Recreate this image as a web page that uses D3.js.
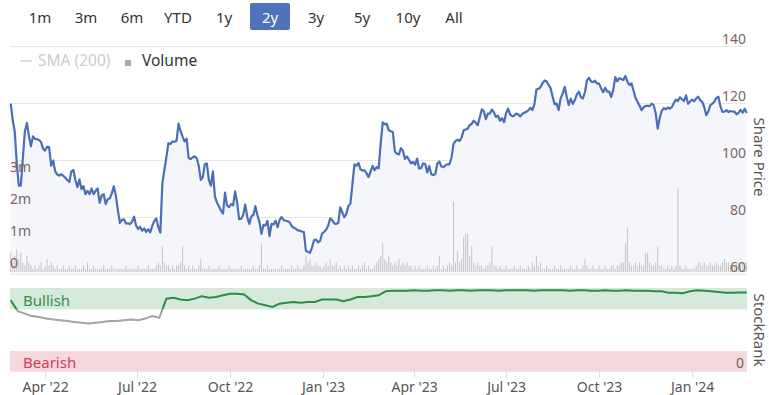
<!DOCTYPE html>
<html>
<head>
<meta charset="utf-8">
<script src="https://cdn.jsdelivr.net/npm/d3@7"></script>
<style>
    body { margin: 0; background: #fff; }
    svg text { font-family: "Noto Sans", sans-serif; }
</style>
</head>
<body>
<svg id="chart" width="769" height="395"></svg>
<script>

// range selector buttons
var rangeButtons = ["1m", "3m", "6m", "YTD", "1y", "2y", "3y", "5y", "10y", "All"];
var selectedButton = "2y";

// price, sampled every 2 days from 26 Feb 2022
var priceValues = [
    119.8,114,110,99,91,91,100.5,110,113,108.5,
    104.8,108.3,107.4,107.3,107,106.3,104,103.3,104.6,104.5,
    98,99.8,96,95,94.5,95,94.4,93.8,93,92.3,
    96,96.5,93,90.5,93.2,89.8,90.8,88,89.2,88,
    90,88,89.2,90,85,87.6,88,84.5,86.3,86.5,
    88.3,90.8,87.5,82.5,77.9,79,79.2,77.7,77.8,77.5,
    78.4,80.1,77,75.8,76.6,75.2,76,74.8,75.7,74.6,
    76.9,78.6,79.5,76.5,74.5,91.8,96.5,101,105.9,105.6,
    106.5,106.4,106.7,112.8,110.2,108.2,106.5,
    107.5,100.7,100.3,100.9,101.3,100.6,98,93,94,98.5,
    98.8,93,91,96,87.2,85.1,83.8,82.2,81.2,88.6,
    84,83.5,84.5,84.1,89,85,79.2,79.4,80.8,84.4,
    80,77.6,80.2,80.7,83.8,80.7,78.4,74.1,77.2,77,
    78.6,73.3,77.6,77.4,78.7,76.4,79,80,78.9,78.7,
    78.5,78.1,76.8,76.2,75.9,75.3,75.2,74.9,74.7,68.1,
    67.8,67.4,69.3,71.8,72.1,71.1,71.6,74.2,74.8,75.5,
    76.9,79.5,78.9,77.7,77.6,77.9,83.4,81.6,79.9,81.1,
    83.9,84.7,91.5,98.5,98,99,96.7,96.3,96.4,95.3,
    94,96,97.9,
    96.4,97.5,97.1,106,113.2,112.6,112.7,110.4,110.1,109.8,
    103,102.2,102,104.2,103.2,100.4,101.2,100,98.8,99.3,
    98.4,100.5,97,97.2,98.8,98.6,95.6,97.9,95,94.7,
    95.1,98.8,99.5,97.7,97.5,98.1,98.5,98.5,100.8,105.6,
    106.7,107.1,106.7,107.9,110.4,110.7,111,112.2,112.7,113.8,
    113.1,112.2,115,117.8,117.1,114.3,116.3,116.3,117.7,116.7,
    115.1,115.6,113.7,114.7,113.2,116.4,118,116,115.4,115.5,
    116.3,116,115.3,116.2,116.6,116.9,117.4,118.3,117.5,119.5,
    124.7,125,125.5,126.9,127.9,127.6,126.4,125.2,122.3,119.6,
    119.8,
    117.5,121.7,123.3,125.7,122.2,119.3,121.5,119.7,121,123,
    124,122,121.6,123.8,128,128.8,127.6,127.3,127.8,126.8,
    126.8,125.2,123.8,125.3,124,124,122.1,124.6,129.1,127.6,
    128.7,128.4,128.1,129.5,127.5,126.3,126.9,124.4,121.8,120.4,
    119.1,117.5,118.5,119,119,118.9,119.8,119.2,116.4,111,
    114.8,117.3,118.2,117.8,118.4,118,118.6,120,121.2,120.7,
    122,121.3,120.7,122.7,119.7,120.5,121.2,120.6,121.6,122.2,
    121,120.4,118.6,115.7,117,119.2,119.8,120.4,121.8,122.2,
    118.8,116.9,117,117.5,116.8,117.2,117,117,116,116.6,
    117.6,116.6,118,116.5
];

// volume in millions, same dates as price
var volumeValues = [
    0.6,0.3,0.5,0.7,0.4,0.6,0.3,0.2,0.5,0.3, 0.2,0.1,0.2,0.1,0.2,0.3,0.1,0.2,0.4,0.2,
    0.3,0.2,0.1,0.2,0.1,0.1,0.2,0.1,0.1,0.2, 0.1,0.1,0.2,0.1,0.1,0.1,0.2,0.1,0.3,0.1,
    0.1,0.2,0.1,0.1,0.1,0.1,0.2,0.1,0.1,0.1, 0.2,0.1,0.1,0.1,0.1,0.1,0.1,0.2,0.1,0.1,
    0.1,0.1,0.1,0.2,0.1,0.1,0.1,0.1,0.2,0.1, 0.1,0.1,0.2,0.3,0.2,0.8,0.3,0.2,0.2,0.1,
    0.2,0.1,0.2,0.2,0.3,0.8,0.2,0.1,0.2,0.1, 0.2,0.1,0.1,0.2,0.4,0.1,0.1,0.1,0.2,0.1,
    0.1,0.1,0.1,0.2,0.1,0.1,0.1,0.1,0.2,0.1, 0.1,0.1,0.1,0.1,0.2,0.1,0.1,0.1,0.1,0.1,
    0.2,0.1,0.1,0.2,0.9,0.1,0.1,0.2,0.1,0.1, 0.1,0.1,0.1,0.1,0.2,0.1,0.1,0.1,0.1,0.2,
    0.1,0.1,0.2,0.1,0.1,0.2,0.5,0.3,0.4,0.2, 0.2,0.3,0.2,0.2,0.1,0.2,0.3,0.2,0.4,0.2,
    0.2,0.3,0.1,0.2,0.1,0.2,0.1,0.2,0.1,0.2, 0.1,0.1,0.2,0.1,0.2,0.3,0.1,0.2,0.1,0.1,
    0.2,0.3,0.4,0.5,0.9,0.4,0.3,0.5,0.3,0.2, 0.3,0.2,0.4,0.2,0.3,0.2,0.3,0.2,0.2,0.1,
    0.2,0.1,0.2,0.1,0.1,0.1,0.2,0.1,0.1,0.2, 0.1,0.2,0.5,0.1,0.2,0.1,0.2,0.3,0.2,2.2,
    0.3,0.65,0.3,0.4,1.1,1.2,1.2,0.5,0.8,0.3, 0.2,0.3,0.2,0.2,0.1,0.2,0.2,0.3,0.8,0.2,
    0.2,0.1,0.2,0.1,0.1,0.2,0.1,0.1,0.1,0.2, 0.1,0.1,0.2,0.1,0.1,0.1,0.2,0.1,0.3,0.2,
    0.5,0.2,0.3,0.1,0.1,0.2,0.1,0.1,0.1,0.2, 0.1,0.1,0.2,0.1,0.1,0.1,0.1,0.2,0.1,0.1,
    0.2,0.1,0.1,0.2,0.4,0.2,0.1,0.1,0.2,0.1, 0.1,0.2,0.1,0.1,0.2,0.1,0.1,0.2,0.2,0.1,
    0.2,0.2,0.3,0.3,0.9,1.4,0.3,0.2,0.2,0.3, 0.2,0.3,0.2,0.2,0.6,0.6,0.3,0.2,0.2,0.3,
    0.8,0.2,0.2,0.1,0.1,0.2,0.1,0.2,0.1,0.2, 2.6,0.2,0.1,0.1,0.2,0.1,0.1,0.1,0.1,0.2,
    0.3,0.3,0.2,0.3,0.2,0.2,0.3,0.2,0.2,0.3, 0.2,0.2,0.3,0.4,0.3,0.3,0.2,0.3,0.2,0.3,
    0.3,0.2,0.3,0.2,0.3
];

// StockRank, weekly from 26 Feb 2022
var rankValues = [
    86,73,70,67,66,64,63,62,61,60,
    59,58,59,60,61,61,62,63,62,64,
    67,65,88,89,87,86,88,91,89,90,
    92,94,94,93,86,82,80,78,82,83,
    84,83,84,84,87,87,87,85,87,90,
    90,91,92,97,97.5,97.5,97.5,98,97.5,97.5,
    98,98,97.5,98,98,97.5,98,98,98,97.5,
    98,98,98,98,97.5,98,98,98,98,97.5,
    98,98,97.5,97.5,98,97.5,97.5,98,97.5,97.5,
    97.5,97,97,95,95,94.5,97,98,97.5,97,
    96,95,95,95.5,95.5
];

var priceTicks = [60, 80, 100, 120, 140];
var volumeTicks = [0, 1, 2, 3];
var volumeTickLabels = ["0", "1m", "2m", "3m"];

var startDate = new Date(2022, 1, 26);
var priceDates = priceValues.map((d, i) => d3.timeDay.offset(startDate, i * 2));
var rankDates = rankValues.map((d, i) => d3.timeWeek.offset(startDate, i));

var svg = d3.select('#chart');

var x = d3.scaleTime().domain([startDate, d3.timeDay.offset(startDate, 728)]).range([10.7, 746.7]);
var yPrice = d3.scaleLinear().domain([60, 140]).range([274, 46]);
var yVol = d3.scaleLinear().domain([0, 3]).range([272, 176]);
var yRank = d3.scaleLinear().domain([0, 100]).range([371.7, 288.7]);

// --- range selector
var btn = svg.append("g").selectAll("g").data(rangeButtons).join("g")
    .attr("transform", (d, i) => "translate(" + (20 + i * 46) + ",3)");
btn.append("rect")
    .attr("width", 40).attr("height", 27).attr("rx", 2)
    .attr("fill", d => d == selectedButton ? "#4d73b8" : "none");
btn.append("text")
    .attr("x", 20).attr("y", 19.5)
    .attr("text-anchor", "middle")
    .attr("font-size", "15px")
    .attr("fill", d => d == selectedButton ? "#fff" : "#333")
    .text(d => d);

// --- legend
var legend = svg.append("g");
legend.append("line").attr("x1", 20).attr("x2", 32).attr("y1", 61).attr("y2", 61)
    .attr("stroke", "#d0d0d0").attr("stroke-width", 1.5);
legend.append("text").attr("x", 38).attr("y", 66).attr("font-size", "15.5px").attr("fill", "#cccccc").text("SMA (200)");
legend.append("rect").attr("x", 125).attr("y", 60).attr("width", 6).attr("height", 6).attr("fill", "#a8a8a8");
legend.append("text").attr("x", 142).attr("y", 66).attr("font-size", "15.5px").attr("fill", "#333").text("Volume");

// --- price pane
svg.append("g").selectAll("line").data(priceTicks).join("line")
    .attr("x1", 10).attr("x2", 747)
    .attr("y1", d => Math.round(yPrice(d)) + 0.5).attr("y2", d => Math.round(yPrice(d)) + 0.5)
    .attr("stroke", "#e6e6e6");

var priceData = priceValues.map((v, i) => ({date: priceDates[i], value: v}));

svg.append("path").datum(priceData)
    .attr("fill", "#f4f6fb")
    .attr("d", d3.area().x(d => x(d.date)).y0(274).y1(d => yPrice(d.value)));

svg.append("g").selectAll("rect").data(volumeValues).join("rect")
    .attr("x", (d, i) => x(priceDates[i]) - 0.5)
    .attr("y", d => yVol(d))
    .attr("width", 1)
    .attr("height", d => yVol(0) - yVol(d))
    .attr("fill", "#c4c4c4");

svg.append("path").datum(priceData)
    .attr("fill", "none")
    .attr("stroke", "#4a6fb5")
    .attr("stroke-width", 2.2)
    .attr("stroke-linejoin", "round")
    .attr("d", d3.line().x(d => x(d.date)).y(d => yPrice(d.value)));

// price axis labels (right)
svg.append("g").selectAll("text").data(priceTicks).join("text")
    .attr("x", 746).attr("y", d => yPrice(d) - 2)
    .attr("text-anchor", "end")
    .attr("font-size", "14px")
    .attr("fill", "#7d6660")
    .text(d => d);

// volume axis labels (left)
svg.append("g").selectAll("text").data(volumeTicks).join("text")
    .attr("x", 10).attr("y", d => yVol(d) - 4)
    .attr("font-size", "14px")
    .attr("fill", "#7d6660")
    .text((d, i) => volumeTickLabels[i]);

svg.append("text")
    .attr("transform", "translate(754,157) rotate(90)")
    .attr("text-anchor", "middle")
    .attr("font-size", "15px")
    .attr("fill", "#555")
    .text("Share Price");

// --- StockRank pane
svg.append("line").attr("x1", 10).attr("x2", 747).attr("y1", 288.5).attr("y2", 288.5).attr("stroke", "#e0e0e0");

svg.append("rect")
    .attr("x", 10).attr("width", 737)
    .attr("y", yRank(100)).attr("height", yRank(75) - yRank(100))
    .attr("fill", "#d6eadc");
svg.append("rect")
    .attr("x", 10).attr("width", 737)
    .attr("y", yRank(25)).attr("height", yRank(0) - yRank(25))
    .attr("fill", "#f5d8dd");

svg.append("text").attr("x", 23).attr("y", 306).attr("font-size", "15px").attr("fill", "#3d8a47").text("Bullish");
svg.append("text").attr("x", 23).attr("y", 368).attr("font-size", "15px").attr("fill", "#d03c58").text("Bearish");

var defs = svg.append("defs");
defs.append("clipPath").attr("id", "bullClip").append("rect")
    .attr("x", 0).attr("y", 0).attr("width", 769).attr("height", yRank(75));
defs.append("clipPath").attr("id", "neutralClip").append("rect")
    .attr("x", 0).attr("y", yRank(75)).attr("width", 769).attr("height", 395 - yRank(75));

var rankData = rankValues.map((v, i) => ({date: rankDates[i], value: v}));
var rankLine = d3.line().x(d => x(d.date)).y(d => yRank(d.value));

svg.append("path").datum(rankData)
    .attr("clip-path", "url(#neutralClip)")
    .attr("fill", "none").attr("stroke", "#a3a3a3").attr("stroke-width", 2)
    .attr("d", rankLine);
svg.append("path").datum(rankData)
    .attr("clip-path", "url(#bullClip)")
    .attr("fill", "none").attr("stroke", "#2f8a42").attr("stroke-width", 2)
    .attr("d", rankLine);

svg.append("text").attr("x", 744).attr("y", 368).attr("text-anchor", "end")
    .attr("font-size", "14px").attr("fill", "#666").text("0");

svg.append("text")
    .attr("transform", "translate(754,330) rotate(90)")
    .attr("text-anchor", "middle")
    .attr("font-size", "15px")
    .attr("fill", "#555")
    .text("StockRank");

// --- time axis
var xAxis = svg.append("g").attr("transform", "translate(0,371)")
    .call(d3.axisBottom(x).ticks(d3.timeMonth.every(3)).tickFormat(d3.timeFormat("%b '%y")).tickSize(7));
xAxis.select(".domain").remove();
xAxis.selectAll(".tick line").attr("stroke", "#d8dde8");
xAxis.selectAll(".tick text")
    .attr("y", 21)
    .attr("dy", 0)
    .attr("font-size", "14px")
    .attr("font-family", "'Noto Sans', sans-serif")
    .attr("fill", "#555");

</script>
</body>
</html>
